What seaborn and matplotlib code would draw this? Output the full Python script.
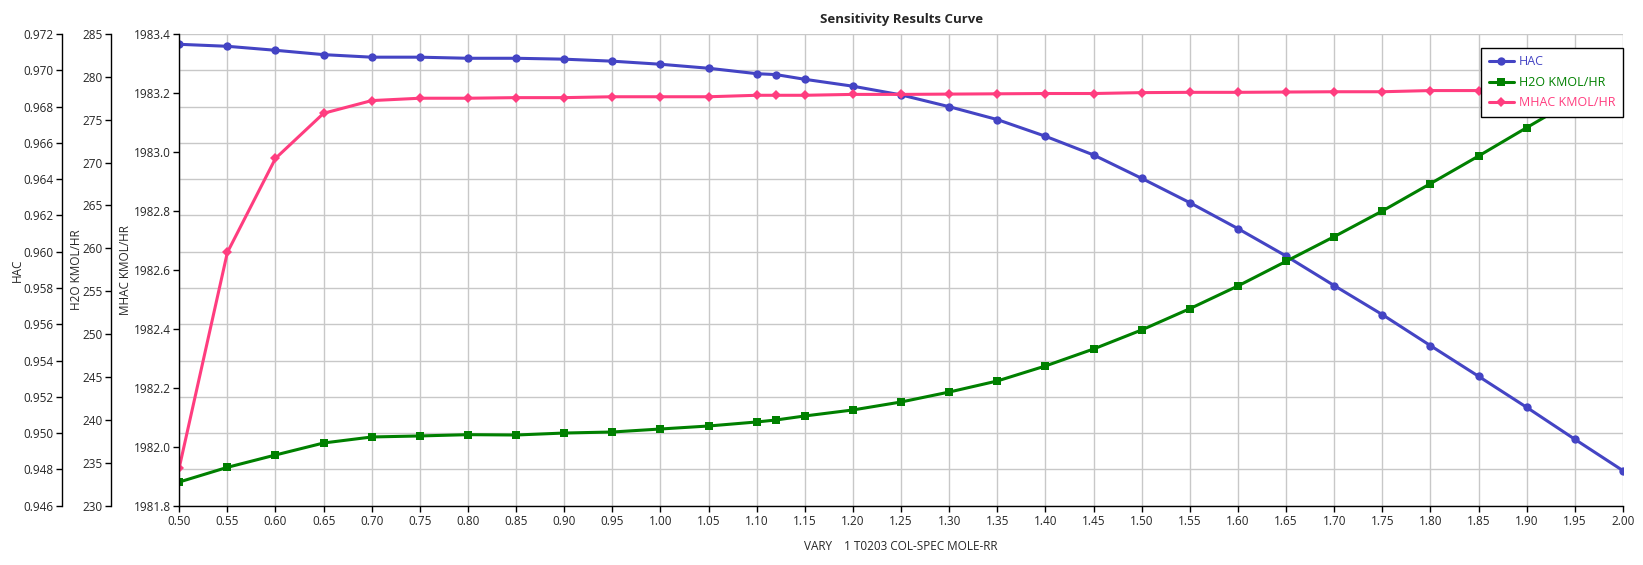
import matplotlib
matplotlib.use('Agg')
import matplotlib.pyplot as plt
import seaborn as sns
from matplotlib.ticker import MultipleLocator, FormatStrFormatter

sns.set_style('whitegrid')
plt.rcParams['font.family'] = ['Open Sans', 'DejaVu Sans']
plt.rcParams['font.size'] = 8.5

# Data
rr = [0.50, 0.55, 0.60, 0.65, 0.70, 0.75, 0.80, 0.85, 0.90, 0.95, 1.00,
      1.05, 1.10, 1.12, 1.15, 1.20, 1.25, 1.30, 1.35, 1.40, 1.45, 1.50,
      1.55, 1.60, 1.65, 1.70, 1.75, 1.80, 1.85, 1.90, 1.95, 2.00]
hac = [0.97143, 0.97132, 0.97110, 0.97086, 0.97072, 0.97072, 0.97066, 0.97066,
       0.97061, 0.97050, 0.97033, 0.97011, 0.96981, 0.96976, 0.96950, 0.96912,
       0.96864, 0.96799, 0.96728, 0.96636, 0.96533, 0.96404, 0.96270, 0.96127,
       0.95976, 0.95813, 0.95653, 0.95482, 0.95313, 0.95142, 0.94966, 0.94793]
h2o = [232.76, 234.47, 235.91, 237.31, 238.01, 238.13, 238.28, 238.24,
       238.47, 238.59, 238.94, 239.29, 239.76, 239.99, 240.46, 241.16,
       242.09, 243.25, 244.54, 246.29, 248.27, 250.49, 252.97, 255.62,
       258.49, 261.37, 264.36, 267.55, 270.77, 274.08, 277.35, 280.57]
mhac = [1981.929, 1982.659, 1982.978, 1983.131, 1983.174, 1983.182, 1983.182, 1983.184,
        1983.184, 1983.187, 1983.187, 1983.187, 1983.192, 1983.192, 1983.192, 1983.195,
        1983.195, 1983.196, 1983.197, 1983.198, 1983.198, 1983.201, 1983.202, 1983.202,
        1983.203, 1983.204, 1983.204, 1983.208, 1983.208, 1983.210, 1983.211, 1983.212]

c_hac = '#4444C4'
c_h2o = '#008000'
c_mhac = '#FF3D7F'

fig = plt.figure(figsize=(16.43, 5.65), dpi=100)
ax = fig.add_axes([0.1091, 0.1050, 0.8787, 0.8349])
ax2 = ax.twinx()
ax3 = ax.twinx()

sns.lineplot(x=rr, y=hac, ax=ax, color=c_hac, marker='o', markersize=6,
             markeredgewidth=0, linewidth=2.2, label='HAC', legend=False)
sns.lineplot(x=rr, y=h2o, ax=ax2, color=c_h2o, marker='s', markersize=5.5,
             markeredgewidth=0, linewidth=2.2, label='H2O KMOL/HR', legend=False)
sns.lineplot(x=rr, y=mhac, ax=ax3, color=c_mhac, marker='D', markersize=5.5,
             markeredgewidth=0, linewidth=2.2, label='MHAC KMOL/HR', legend=False)

ax.set_xlim(0.5, 2.0)
ax.xaxis.set_major_locator(MultipleLocator(0.05))
ax.xaxis.set_major_formatter(FormatStrFormatter('%.2f'))

ax.set_ylim(0.946, 0.972)
ax.yaxis.set_major_locator(MultipleLocator(0.002))
ax.yaxis.set_major_formatter(FormatStrFormatter('%.3f'))
ax2.set_ylim(230, 285)
ax2.yaxis.set_major_locator(MultipleLocator(5))
ax3.set_ylim(1981.8, 1983.4)
ax3.yaxis.set_major_locator(MultipleLocator(0.2))
ax3.yaxis.set_major_formatter(FormatStrFormatter('%.1f'))

ax.grid(True, color='#C8C8C8', linewidth=1.0)
ax2.grid(False)
ax3.grid(False)

# stack all y axes on the left side (offsets in points: 117 px and 68 px)
for a, off in [(ax, 84.2), (ax2, 49.0), (ax3, 0)]:
    a.yaxis.set_ticks_position('left')
    a.yaxis.set_label_position('left')
    for s in ['top', 'right', 'bottom', 'left']:
        a.spines[s].set_visible(False)
    a.spines['left'].set_visible(True)
    a.spines['left'].set_position(('outward', off))
    a.spines['left'].set_color('black')
    a.spines['left'].set_linewidth(1.0)
    a.tick_params(axis='y', direction='out', length=4, width=1, color='black',
                  labelsize=8.5, pad=2, left=True, right=False,
                  labelleft=True, labelright=False)

ax.spines['bottom'].set_visible(True)
ax.spines['bottom'].set_color('black')
ax.spines['bottom'].set_linewidth(1.0)
ax.tick_params(axis='x', direction='out', length=4, width=1, color='black',
               labelsize=8.5, pad=3, bottom=True)

ax.set_ylabel('HAC', fontsize=8.5)
ax2.set_ylabel('H2O KMOL/HR', fontsize=8.5)
ax3.set_ylabel('MHAC KMOL/HR', fontsize=8.5)
ax.yaxis.set_label_coords(-0.1076, 0.5)
ax2.yaxis.set_label_coords(-0.0667, 0.5)
ax3.yaxis.set_label_coords(-0.0328, 0.5)

ax.set_xlabel('VARY    1 T0203 COL-SPEC MOLE-RR', fontsize=8.5, labelpad=8)
ax.set_title('Sensitivity Results Curve', fontsize=9.5, fontweight='bold', pad=8)

handles = ax.lines[:1] + ax2.lines[:1] + ax3.lines[:1]
leg = ax3.legend(handles, ['HAC', 'H2O KMOL/HR', 'MHAC KMOL/HR'],
                 loc='upper right', bbox_to_anchor=(1.0, 1 - 14 / 471.7),
                 borderaxespad=0, fancybox=False, framealpha=1,
                 edgecolor='black', fontsize=9, handlelength=2.0,
                 handletextpad=0.4, borderpad=0.6, labelspacing=0.6)
leg.get_frame().set_linewidth(1.0)
for t, c in zip(leg.get_texts(), [c_hac, c_h2o, c_mhac]):
    t.set_color(c)

fig.savefig('out.png', dpi=100)
